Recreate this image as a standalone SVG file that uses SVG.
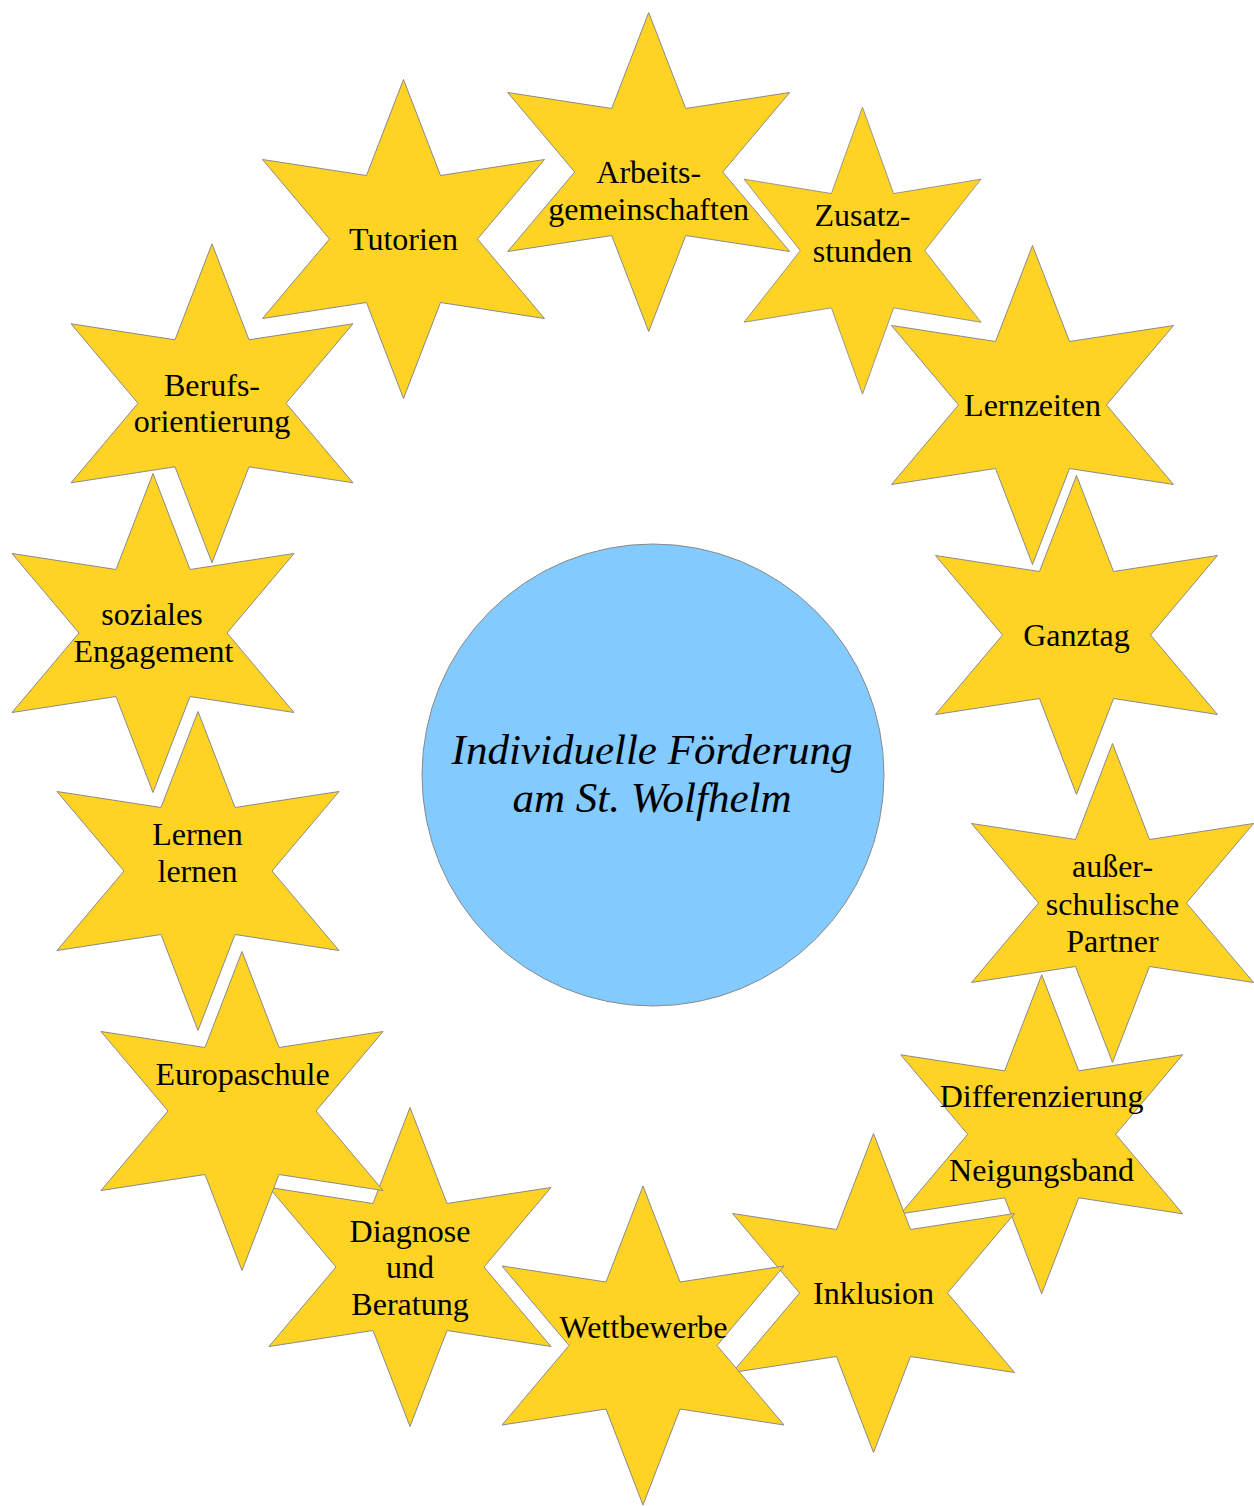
<svg xmlns="http://www.w3.org/2000/svg" xmlns:xlink="http://www.w3.org/1999/xlink" width="1254" height="1506" viewBox="0 0 1254 1506">
<style>
.star{fill:#FED323;stroke:#8a8a8a;stroke-width:1;}
.hub{fill:#83CAFF;stroke:#8a8a8a;stroke-width:1;}
.lbl{font-family:"Liberation Serif","Times New Roman",serif;font-size:32px;fill:#000;text-anchor:middle;}
.title{font-family:"Liberation Serif","Times New Roman",serif;font-size:43px;font-style:italic;fill:#000;text-anchor:middle;}
</style>
<defs>
<path id="star" d="M0,-159.5 L37,-63.5 L141,-79.5 L74,0 L141,79.5 L37,63.5 L0,159.5 L-37,63.5 L-141,79.5 L-74,0 L-141,-79.5 L-37,-63.5 Z"/>
</defs>
<rect width="1254" height="1506" fill="#ffffff"/>
<g id="connectors"></g>

<g id="center">
<circle class="hub" cx="653" cy="775" r="231"/>
<text class="title"><tspan x="652" y="764">Individuelle Förderung</tspan><tspan x="652" y="812">am St. Wolfhelm</tspan></text>
</g>

<g id="arbeitsgemeinschaften">
<use xlink:href="#star" href="#star" class="star" transform="translate(648.7,172)"/>
<text class="lbl"><tspan x="648.7" y="183">Arbeits-</tspan><tspan x="648.7" y="220">gemeinschaften</tspan></text>
</g>

<g id="tutorien">
<use xlink:href="#star" href="#star" class="star" transform="translate(403.5,239)"/>
<text class="lbl" x="403.5" y="250">Tutorien</text>
</g>

<g id="zusatzstunden">
<use xlink:href="#star" href="#star" class="star" transform="translate(862.5,250.7) scale(0.8404,0.8997)" style="vector-effect:non-scaling-stroke"/>
<text class="lbl"><tspan x="862.5" y="226">Zusatz-</tspan><tspan x="862.5" y="262">stunden</tspan></text>
</g>

<g id="lernzeiten">
<use xlink:href="#star" href="#star" class="star" transform="translate(1032.5,405)"/>
<text class="lbl" x="1032.5" y="416">Lernzeiten</text>
</g>

<g id="ganztag">
<use xlink:href="#star" href="#star" class="star" transform="translate(1076.5,635)"/>
<text class="lbl" x="1076.5" y="646">Ganztag</text>
</g>

<g id="ausserschulische-partner">
<use xlink:href="#star" href="#star" class="star" transform="translate(1112.5,903)"/>
<text class="lbl"><tspan x="1112.5" y="877.3">außer-</tspan><tspan x="1112.5" y="914.5">schulische</tspan><tspan x="1112.5" y="951.5">Partner</tspan></text>
</g>

<g id="differenzierung">
<use xlink:href="#star" href="#star" class="star" transform="translate(1041.7,1134.3)"/>
<text class="lbl"><tspan x="1041.5" y="1106.7">Differenzierung</tspan><tspan x="1041.5" y="1180.7">Neigungsband</tspan></text>
</g>

<g id="inklusion">
<use xlink:href="#star" href="#star" class="star" transform="translate(873.5,1293)"/>
<text class="lbl" x="873.5" y="1304.3">Inklusion</text>
</g>

<g id="wettbewerbe">
<use xlink:href="#star" href="#star" class="star" transform="translate(643,1345.5)"/>
<text class="lbl" x="643.5" y="1338.3">Wettbewerbe</text>
</g>

<g id="diagnose-und-beratung">
<use xlink:href="#star" href="#star" class="star" transform="translate(410,1267)"/>
<text class="lbl"><tspan x="410" y="1241.7">Diagnose</tspan><tspan x="410" y="1278">und</tspan><tspan x="410" y="1314.5">Beratung</tspan></text>
</g>

<g id="europaschule">
<use xlink:href="#star" href="#star" class="star" transform="translate(242,1111)"/>
<text class="lbl" x="242.5" y="1085">Europaschule</text>
</g>

<g id="lernen-lernen">
<use xlink:href="#star" href="#star" class="star" transform="translate(198,871)"/>
<text class="lbl"><tspan x="197.5" y="845">Lernen</tspan><tspan x="197.5" y="881.7">lernen</tspan></text>
</g>

<g id="soziales-engagement">
<use xlink:href="#star" href="#star" class="star" transform="translate(153,633)"/>
<text class="lbl"><tspan x="152" y="625.4">soziales</tspan><tspan x="153.5" y="662">Engagement</tspan></text>
</g>

<g id="berufsorientierung">
<use xlink:href="#star" href="#star" class="star" transform="translate(212,403.3)"/>
<text class="lbl"><tspan x="212" y="395.7">Berufs-</tspan><tspan x="212" y="432">orientierung</tspan></text>
</g>
</svg>
